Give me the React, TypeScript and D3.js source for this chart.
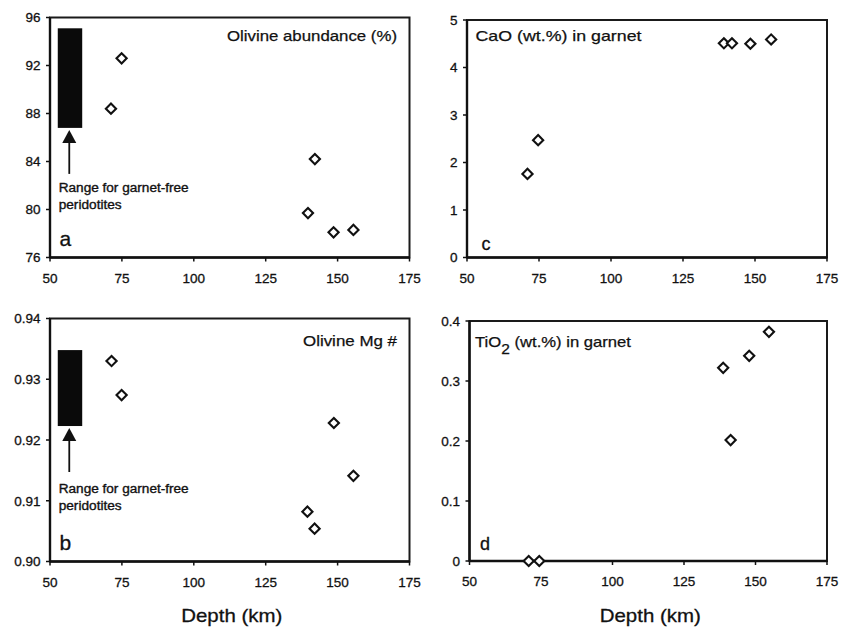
import React from 'react';
import * as d3 from 'd3';

// ---- data ----
const depthTicks = [50, 75, 100, 125, 150, 175];

const depthA = [71.2, 74.9, 142.1, 139.7, 148.6, 155.5];
const olivineAbundance = [88.4, 92.6, 84.2, 79.7, 78.1, 78.3];
const ticksA = [76, 80, 84, 88, 92, 96];
const rangeA = [86.8, 95.1];

const depthC = [71.0, 74.7, 139.2, 142.0, 148.4, 155.6];
const caoGarnet = [1.76, 2.47, 4.51, 4.51, 4.5, 4.59];
const ticksC = [0, 1, 2, 3, 4, 5];

const depthB = [71.4, 74.9, 148.7, 155.5, 139.5, 142.0];
const olivineMg = [0.933, 0.9274, 0.9228, 0.9141, 0.9082, 0.9054];
const ticksB = [0.9, 0.91, 0.92, 0.93, 0.94];
const rangeB = [0.9223, 0.9348];

const depthD = [70.7, 74.4, 138.7, 141.3, 147.8, 154.7];
const tio2Garnet = [0, 0, 0.322, 0.2015, 0.342, 0.382];
const ticksD = [0, 0.1, 0.2, 0.3, 0.4];

const rangeDepth = [52.7, 61.2];
const arrowDepth = 56.7;

const FONT = '"Liberation Sans", Arial, Helvetica, sans-serif';
const INK = '#111';

type Cfg = {
  key: string;
  x0: number; x1: number; y0: number; y1: number;
  yDomain: [number, number];
  yTicks: number[];
  fmt: (v: number) => string;
  depth: number[];
  values: number[];
  range?: number[];
  letterSize: number;
  letterDx: number;
  letterDy: number;
  title: React.ReactNode;
  titleAnchor: 'start' | 'end';
  titleDx: number;
  titleDy: number;
  titleLen: number;
  showDepth: boolean;
};

function Panel({ c }: { c: Cfg }) {
  const x = d3.scaleLinear().domain([50, 175]).range([c.x0, c.x1]);
  const y = d3.scaleLinear().domain(c.yDomain).range([c.y1, c.y0]);
  const diamond = d3.symbol(d3.symbolSquare, 52)() as string;

  let rangeEls = null;
  if (c.range) {
    const rx0 = x(rangeDepth[0]);
    const rx1 = x(rangeDepth[1]);
    const ryTop = y(c.range[1]);
    const ryBot = y(c.range[0]);
    const ax = x(arrowDepth);
    const tip = ryBot + 2;
    const tail = tip + 44;
    rangeEls = (
      <g>
        <rect x={rx0} y={ryTop} width={rx1 - rx0} height={ryBot - ryTop} fill="#0a0a0a" />
        <line x1={ax} x2={ax} y1={tip + 10} y2={tail} stroke={INK} strokeWidth={1.8} />
        <path d={`M${ax},${tip} L${ax - 7},${tip + 13} L${ax + 7},${tip + 13} Z`} fill={INK} />
        <text x={c.x0 + 8.7} y={c.y0 + 174.5} fontFamily={FONT} fontSize={12.5}
          fill={INK} stroke={INK} strokeWidth={0.35}
          textLength={130} lengthAdjust="spacingAndGlyphs">Range for garnet-free</text>
        <text x={c.x0 + 8.7} y={c.y0 + 191} fontFamily={FONT} fontSize={12.5}
          fill={INK} stroke={INK} strokeWidth={0.35}
          textLength={63} lengthAdjust="spacingAndGlyphs">peridotites</text>
      </g>
    );
  }

  return (
    <g>
      {/* frame */}
      <rect x={c.x0} y={c.y0} width={c.x1 - c.x0} height={c.y1 - c.y0}
        fill="none" stroke="#1a1a1a" strokeWidth={2} />
      <line x1={c.x0} x2={c.x0} y1={c.y0} y2={c.y1} stroke={INK} strokeWidth={2.4} />
      <line x1={c.x0} x2={c.x1} y1={c.y1} y2={c.y1} stroke={INK} strokeWidth={2.4} />
      {/* y ticks */}
      {c.yTicks.map((t) => (
        <g key={'y' + t}>
          <line x1={c.x0 - 4} x2={c.x0} y1={y(t)} y2={y(t)} stroke={INK} strokeWidth={1.5} />
          <text x={c.x0 - 9.5} y={y(t)} dy="0.36em" textAnchor="end" fontFamily={FONT}
            fontSize={13.5} fill={INK} stroke={INK} strokeWidth={0.3}>{c.fmt(t)}</text>
        </g>
      ))}
      {/* x ticks */}
      {depthTicks.map((t) => (
        <g key={'x' + t}>
          <line x1={x(t)} x2={x(t)} y1={c.y1} y2={c.y1 + 4} stroke={INK} strokeWidth={1.5} />
          <text x={x(t)} y={c.y1 + 25} textAnchor="middle" fontFamily={FONT}
            fontSize={13.5} fill={INK} stroke={INK} strokeWidth={0.3}>{t}</text>
        </g>
      ))}
      {rangeEls}
      {/* points */}
      {c.values.map((v, i) => (
        <path key={'p' + i} d={diamond}
          transform={`translate(${x(c.depth[i])},${y(v)}) rotate(45)`}
          fill="#fff" stroke={INK} strokeWidth={2.1} />
      ))}
      {/* title */}
      <text x={c.titleAnchor === 'end' ? c.x1 - c.titleDx : c.x0 + c.titleDx} y={c.y0 + c.titleDy}
        textAnchor={c.titleAnchor} fontFamily={FONT} fontSize={15} fill={INK}
        stroke={INK} strokeWidth={0.25}
        textLength={c.titleLen} lengthAdjust="spacingAndGlyphs">{c.title}</text>
      {/* panel letter */}
      <text x={c.x0 + c.letterDx} y={c.y1 - c.letterDy} fontFamily={FONT}
        fontSize={c.letterSize} fill={INK} stroke={INK} strokeWidth={0.3}>{c.key}</text>
      {c.showDepth && (
        <text x={(c.x0 + c.x1) / 2 + 2} y={622} textAnchor="middle" fontFamily={FONT}
          fontSize={19} fill={INK} stroke={INK} strokeWidth={0.3}
          textLength={101} lengthAdjust="spacingAndGlyphs">Depth (km)</text>
      )}
    </g>
  );
}

const fmtInt = (v: number) => d3.format('d')(v);
const fmt2 = (v: number) => d3.format('.2f')(v);
const fmtD = (v: number) => (v === 0 ? '0' : d3.format('.1f')(v));

export default function App() {
  const panels: Cfg[] = [
    {
      key: 'a', x0: 50, x1: 409.5, y0: 17.5, y1: 257.5, yDomain: [76, 96], yTicks: ticksA,
      fmt: fmtInt, depth: depthA, values: olivineAbundance, range: rangeA,
      letterSize: 21, letterDx: 9.5, letterDy: 11.5,
      title: 'Olivine abundance (%)', titleAnchor: 'end', titleDx: 12.5, titleDy: 23.5, titleLen: 170,
      showDepth: false,
    },
    {
      key: 'c', x0: 467, x1: 827, y0: 20, y1: 257.5, yDomain: [0, 5], yTicks: ticksC,
      fmt: fmtInt, depth: depthC, values: caoGarnet,
      letterSize: 18, letterDx: 14.5, letterDy: 7.5,
      title: 'CaO (wt.%) in garnet', titleAnchor: 'start', titleDx: 8.5, titleDy: 21, titleLen: 166,
      showDepth: false,
    },
    {
      key: 'b', x0: 50, x1: 409.5, y0: 318.5, y1: 561.5, yDomain: [0.9, 0.94], yTicks: ticksB,
      fmt: fmt2, depth: depthB, values: olivineMg, range: rangeB,
      letterSize: 21, letterDx: 9.5, letterDy: 11.5,
      title: 'Olivine Mg #', titleAnchor: 'end', titleDx: 12.5, titleDy: 27.5, titleLen: 94,
      showDepth: true,
    },
    {
      key: 'd', x0: 469.5, x1: 827, y0: 321, y1: 561, yDomain: [0, 0.4], yTicks: ticksD,
      fmt: fmtD, depth: depthD, values: tio2Garnet,
      letterSize: 18, letterDx: 10.5, letterDy: 11,
      title: (
        <>
          TiO<tspan dy={7} fontSize={14}>2</tspan><tspan dy={-7}> (wt.%) in garnet</tspan>
        </>
      ),
      titleAnchor: 'start', titleDx: 5.5, titleDy: 25.7, titleLen: 156,
      showDepth: true,
    },
  ];

  return (
    <svg width={842} height={629} viewBox="0 0 842 629"
      style={{ position: 'absolute', left: 0, top: 0, display: 'block', background: '#fff' }}>
      <rect x={0} y={0} width={842} height={629} fill="#fff" />
      {panels.map((p) => <Panel key={p.key} c={p} />)}
    </svg>
  );
}
